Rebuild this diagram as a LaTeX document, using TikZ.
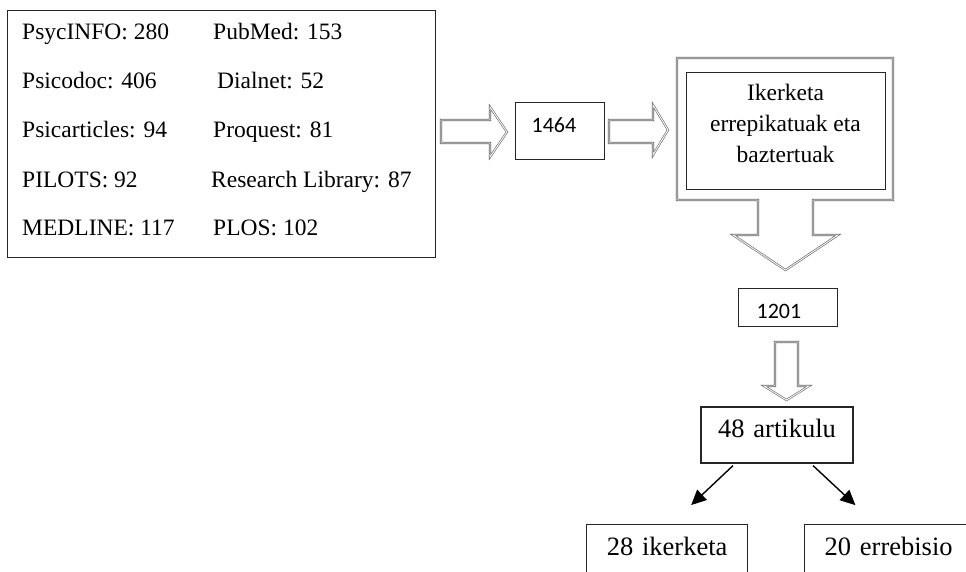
\documentclass[tikz,border=0pt]{standalone}
\usepackage{fontspec}
\setmainfont{Liberation Serif}
\newfontfamily\calibri{Carlito}
\usetikzlibrary{arrows.meta}

\tikzset{
  box/.style={draw=black!85, line width=1.2pt, inner sep=0pt},
  entry/.style={anchor=base west, inner sep=0pt},
  countbox/.style={box, anchor=north west, align=left, font=\calibri\fontsize{22}{26}\selectfont},
  hollow/.style={draw=gray!75!black, line width=.6pt, double=white, double distance=.9pt, line join=miter},
  arr/.style={line width=1.4pt, -{Triangle[length=15pt,width=14pt]}, shorten >=27.6pt}
}

\begin{document}
\begin{tikzpicture}[x=1pt,y=-1pt,font=\fontsize{23.5}{31}\selectfont]

\clip (0,0) rectangle (966,572);

% databases
\node[box, anchor=north west, minimum width=428, minimum height=247] (src) at (7,10) {};
\foreach \y/\l/\r/\rx in {40/PsycINFO: 280/PubMed: 153/213, 89/Psicodoc: 406/Dialnet: 52/217,
  138/Psicarticles: 94/Proquest: 81/213, 188/PILOTS: 92/Research Library: 87/211,
  236/MEDLINE: 117/PLOS: 102/213}
{
  \node[entry] (left\y) at (22,\y) {\l};
  \node[entry] (right\y) at (\rx,\y) {\r};
}

\draw[hollow] (441,120) -- (490,120) -- (490,107) -- (507,132) -- (490,157) -- (490,143) -- (441,143) -- cycle;

\node[countbox, inner xsep=16pt, inner ysep=0pt, text width=57pt, text height=30pt, text depth=27pt] (total) at (515,102) {1464};

\draw[hollow] (609,120) -- (653,120) -- (653,105) -- (668,130) -- (653,155) -- (653,143) -- (609,143) -- cycle;

% duplicates removed
\draw[hollow] (677,58) -- (893,58) -- (893,200) -- (813,200) -- (813,235) -- (838,235) -- (785.5,270)
  -- (733,235) -- (758,235) -- (758,200) -- (677,200) -- cycle;
\node[box, anchor=north west, minimum width=199, minimum height=117] (excl) at (686,72) {};
\node[align=center, inner sep=0pt, anchor=north] (excltxt) at (785.5,84) {Ikerketa\\errepikatuak eta\\baztertuak};

\node[countbox, inner xsep=18pt, inner ysep=0pt, text width=63pt, text height=30pt, text depth=8pt] (kept) at (738,288) {1201};

\draw[hollow] (775,342) -- (798,342) -- (798,386) -- (809,386) -- (786.5,400) -- (764,386) -- (775,386) -- cycle;

\node[box, align=center, text width=152pt, text height=30pt, text depth=26pt, font=\fontsize{26.5}{31}\selectfont] (art) at (777,435) {48 artikulu};

\node[box, anchor=north west, align=center, text width=161pt, text height=31pt, text depth=60pt, font=\fontsize{26.5}{31}\selectfont] (ik) at (586,524) {28 ikerketa};
\node[box, anchor=north west, align=center, text width=168pt, text height=31pt, text depth=60pt, font=\fontsize{26.5}{31}\selectfont] (er) at (804,524) {20 errebisio};

\draw[arr] ([xshift=-44pt,yshift=-2pt]art.south) -- ([xshift=4pt]ik.north);
\draw[arr] ([xshift=36pt,yshift=-2pt]art.south) -- ([xshift=-13pt]er.north);

\end{tikzpicture}
\end{document}
